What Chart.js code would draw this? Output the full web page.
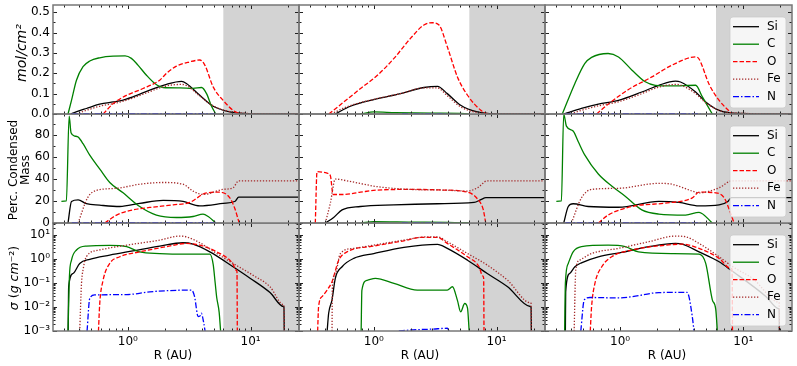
<!DOCTYPE html>
<html><head><meta charset="utf-8">
<script src="https://cdn.jsdelivr.net/npm/chart.js@4.4.0/dist/chart.umd.min.js"></script>
<style>
html,body{margin:0;padding:0;background:#fff;}
#wrap{position:relative;width:797px;height:366px;overflow:hidden;font-family:"DejaVu Sans";background:#fff;}
canvas{position:absolute;left:0;top:0;}
.lab{position:absolute;white-space:nowrap;font-size:12px;color:#000;line-height:12px;z-index:30;text-align:center;}
.rot{transform:translate(-50%,-50%) rotate(-90deg);}
.hz{transform:translate(-50%,-50%);}
</style></head><body><div id="wrap"></div>
<script>
// ---------- DATA (R in AU, value) ----------
const elements = ["Si","C","O","Fe","N"];

// Row 1: mol/cm^2
const molA_Si = [[0.345,0],[0.40,0.015],[0.46,0.027],[0.59,0.048],[0.76,0.059],[0.86,0.064],[1.1,0.084],[1.51,0.117],[2.07,0.146],[2.74,0.160],[3.0,0.150],[3.86,0.092],[4.96,0.038],[6.78,0.010],[9.3,0.002],[12,0.0005],[25,0]];
const molA_C  = [[0.326,0],[0.348,0.067],[0.382,0.166],[0.432,0.232],[0.49,0.26],[0.59,0.276],[0.76,0.284],[0.95,0.285],[1.07,0.273],[1.21,0.24],[1.42,0.19],[1.66,0.15],[1.94,0.13],[2.65,0.128],[3.4,0.126],[3.99,0.13],[4.38,0.10],[4.81,0.038],[5.21,0]];
const molA_O  = [[0.63,0],[0.76,0.051],[0.98,0.092],[1.33,0.125],[1.82,0.166],[2.07,0.2],[2.49,0.235],[3.2,0.256],[3.86,0.265],[4.24,0.24],[4.96,0.133],[5.98,0.067],[7.2,0.018],[8.2,0]];
const molA_Fe = [[0.38,0],[0.46,0.018],[0.59,0.038],[0.86,0.058],[1.1,0.078],[1.51,0.11],[2.07,0.138],[2.74,0.145],[3.0,0.14],[3.86,0.088],[4.96,0.04],[6.78,0.012],[9.3,0.003],[12,0.001],[25,0]];
const molA_N  = [[0.35,0.001],[1.0,0.002],[3.5,0.002],[4.6,0.001],[5.2,0.0005]];

const molB_Si = [[0.486,0],[0.645,0.038],[1.0,0.071],[1.65,0.10],[2.56,0.13],[3.3,0.136],[3.97,0.10],[5.1,0.043],[7.0,0.01],[9.6,0.001],[25,0]];
const molB_C  = [[0.79,0],[1.0,0.01],[1.5,0.007],[3.0,0.004],[5.5,0.002],[5.9,0]];
const molB_O  = [[0.43,0],[0.57,0.059],[0.78,0.125],[1.07,0.19],[1.46,0.273],[1.99,0.371],[2.56,0.437],[3.0,0.448],[3.4,0.437],[3.97,0.33],[4.8,0.182],[5.8,0.092],[7.44,0.018],[8.4,0]];
const molB_Fe = [[0.45,0],[0.6,0.035],[1.0,0.072],[1.65,0.10],[2.56,0.128],[3.3,0.128],[3.97,0.09],[5.1,0.035],[7.0,0.007],[9.6,0.001],[25,0]];
const molB_N  = [[1.7,0],[4.2,0.0005]];

const molC_Si = [[0.35,0],[0.486,0.027],[0.666,0.048],[0.97,0.067],[1.5,0.108],[2.06,0.141],[2.81,0.161],[3.09,0.157],[4.1,0.108],[4.95,0.059],[6.36,0.018],[9.28,0.003],[25,0]];
const molC_C  = [[0.34,0],[0.43,0.15],[0.518,0.248],[0.587,0.278],[0.80,0.297],[0.97,0.28],[1.25,0.215],[1.6,0.158],[1.93,0.141],[2.64,0.138],[4.1,0.141],[4.65,0.084],[5.6,0]];
const molC_O  = [[0.645,0],[0.80,0.048],[1.17,0.12],[1.81,0.182],[2.64,0.24],[4.1,0.28],[4.37,0.27],[5.27,0.146],[6.36,0.067],[8.1,0]];
const molC_Fe = [[0.4,0],[0.486,0.018],[0.666,0.04],[0.97,0.06],[1.5,0.1],[2.06,0.132],[2.81,0.145],[3.09,0.142],[4.1,0.1],[4.95,0.055],[6.36,0.018],[9.28,0.004],[25,0]];
const molC_N  = [[0.36,0.001],[1.0,0.002],[3.9,0.002],[4.5,0.001]];

// Row 2: percent condensed mass
const percA_Si = [[0.326,0],[0.348,19.6],[0.394,21],[0.46,17.5],[0.59,16.2],[0.86,15],[1.25,17.8],[1.94,20.6],[2.82,19.6],[3.86,15.6],[5.98,17.8],[7.5,19.8],[8.0,23.5],[25,23.5]];
const percA_C  = [[0.288,19.6],[0.316,20],[0.333,97],[0.345,82],[0.37,79],[0.394,78],[0.432,72],[0.49,61.6],[0.59,49.2],[0.713,36.8],[0.916,27.4],[1.25,15],[1.71,7.2],[2.49,5],[3.4,5.9],[4.1,8.1],[4.52,5.9],[5.21,0]];
const percA_O  = [[0.65,0],[0.81,7.2],[1.1,11.9],[1.51,14.1],[2.34,16.5],[3.2,18.7],[4.38,27.4],[5.62,28],[6.78,22.8],[7.43,13.4],[8.08,0]];
const percA_Fe = [[0.394,0],[0.47,22.8],[0.55,29.5],[0.81,31.5],[1.25,35.2],[1.94,36.8],[2.82,35.2],[3.4,29],[4.1,25.9],[5.98,30.5],[7.2,32],[8.0,38.3],[25,38.3]];
const percA_N  = [[0.35,0.3],[5.2,0.3]];

const percB_Si = [[0.403,0],[0.471,5],[0.552,11.9],[0.778,15],[1.46,16.5],[3.3,17.5],[6.56,18.7],[7.44,21.2],[8.2,23.1],[25,23.1]];
const percB_C  = [[0.79,0],[1.0,1.2],[2.0,0.8],[4.0,0.5],[5.9,0]];
const percB_O  = [[0.334,0],[0.345,46.7],[0.417,45.2],[0.443,43],[0.466,25.9],[0.569,25.9],[0.778,28],[1.07,29.9],[1.99,30.5],[3.73,29.9],[5.8,28],[7.0,21.8],[7.8,11.9],[8.16,0]];
const percB_Fe = [[0.403,0],[0.443,18.1],[0.486,39.9],[0.606,38.3],[1.07,33],[1.99,30.5],[3.73,29.9],[5.8,29],[7.0,32],[8.4,38.3],[25,38.3]];
const percB_N  = [[1.7,0.1],[4.2,0.1]];

const percC_Si = [[0.349,0],[0.38,15],[0.416,17.5],[0.552,15],[0.97,14.3],[2.06,19.6],[3.0,18.7],[4.37,15.6],[6.36,16.5],[7.5,19.5],[8.0,23],[25,23]];
const percC_C  = [[0.304,19.6],[0.334,20],[0.349,99],[0.367,88],[0.416,83.5],[0.457,74],[0.518,61.6],[0.666,44.5],[0.855,33.6],[1.1,24.3],[1.5,11.9],[2.06,8.1],[3.4,7.2],[4.37,9.7],[5.6,0]];
const percC_O  = [[0.666,0],[0.80,7.2],[1.25,15],[2.33,18.1],[3.85,22.8],[4.37,28],[5.97,27.4],[7.0,22.8],[7.7,11.9],[8.4,0]];
const percC_Fe = [[0.403,0],[0.486,22.8],[0.587,30.5],[0.97,31.5],[2.06,36],[2.64,35.2],[3.85,29],[4.37,27.4],[6.36,32],[8.1,38.3],[25,38.3]];
const percC_N  = [[0.36,0.3],[4.5,0.3]];

// Row 3: surface density (g cm^-2)
const sigA_Si = [[0.327,0.001],[0.33,0.07],[0.358,0.25],[0.406,0.66],[0.49,0.98],[0.713,1.47],[1.1,2.2],[1.82,3.5],[2.82,4.8],[3.4,4.2],[4.66,2.0],[7.2,0.48],[9.9,0.16],[14.4,0.04],[18.5,0.0105],[18.7,0.01],[18.8,0.001]];
const sigA_C  = [[0.326,0.001],[0.335,0.2],[0.348,0.9],[0.382,2.4],[0.46,3.5],[0.713,3.7],[0.98,3.3],[1.25,2.0],[1.82,1.7],[3.0,1.6],[4.66,1.6],[4.96,0.6],[5.15,0.1],[5.3,0.025],[5.55,0.006],[5.7,0.001]];
const sigA_O  = [[0.577,0.001],[0.591,0.014],[0.629,0.13],[0.713,0.66],[0.86,1.25],[1.25,2.0],[2.07,3.3],[3.0,4.5],[3.86,3.8],[5.3,2.0],[7.2,0.62],[7.6,0.35],[7.75,0.3],[7.8,0.001]];
const sigA_Fe = [[0.406,0.001],[0.42,0.1],[0.432,0.35],[0.46,1.25],[0.59,2.4],[0.98,3.8],[1.82,6.2],[2.65,9.1],[3.0,8.5],[3.86,4.8],[5.3,1.7],[7.2,0.66],[10.5,0.21],[14.4,0.07],[18.5,0.0125],[18.7,0.012],[18.8,0.001]];
const sigA_N  = [[0.466,0.001],[0.49,0.023],[0.538,0.032],[0.98,0.033],[1.51,0.043],[2.07,0.048],[3.31,0.051],[3.5,0.027],[3.74,0.004],[3.93,0.0046],[3.97,0.0055],[4.16,0.0021],[4.26,0.001]];

const sigB_Si = [[0.417,0.001],[0.429,0.0055],[0.457,0.02],[0.486,0.158],[0.552,0.48],[0.687,1.07],[1.0,1.7],[1.76,3.1],[3.3,4.1],[3.97,2.8],[5.8,0.9],[8.4,0.25],[12.3,0.07],[18.8,0.0105],[19.1,0.0097],[19.2,0.001]];
const sigB_C  = [[0.789,0.001],[0.8,0.05],[0.883,0.13],[1.03,0.158],[1.46,0.097],[2.26,0.051],[3.97,0.051],[4.37,0.07],[4.8,0.019],[5.1,0.0063],[5.5,0.014],[5.8,0.0089],[5.98,0.001]];
const sigB_O  = [[0.349,0.001],[0.355,0.01],[0.379,0.027],[0.417,0.051],[0.457,0.114],[0.518,0.9],[0.606,2.0],[1.0,3.5],[1.76,5.8],[2.41,8.0],[3.3,8.0],[3.97,4.5],[5.8,1.25],[7.2,0.48],[7.7,0.2],[7.85,0.16],[7.9,0.001]];
const sigB_Fe = [[0.457,0.001],[0.46,0.07],[0.486,0.25],[0.534,1.7],[0.687,2.8],[1.0,3.8],[1.76,6.2],[2.73,8.5],[3.3,8.5],[3.97,5.3],[5.8,1.7],[8.4,0.56],[12.3,0.13],[18.8,0.015],[19.1,0.014],[19.2,0.001]];
const sigB_N  = [[1.6,0.001],[1.99,0.0011],[3.0,0.0012],[3.97,0.0013],[4.1,0.001]];

const sigC_Si = [[0.36,0.001],[0.362,0.043],[0.39,0.25],[0.43,0.48],[0.486,0.7],[0.666,1.25],[1.03,1.9],[1.71,3.3],[2.81,4.5],[3.19,4.2],[4.37,2.0],[6.36,0.77],[7.9,0.35],[15.3,0.027],[19.3,0.0085],[19.5,0.008],[19.6,0.001]];
const sigC_C  = [[0.355,0.001],[0.36,0.1],[0.38,0.66],[0.416,2.0],[0.486,3.3],[0.80,3.8],[1.1,3.3],[1.41,2.0],[2.64,1.7],[4.37,1.6],[4.95,0.66],[5.6,0.02],[5.97,0.008],[6.15,0.001]];
const sigC_O  = [[0.573,0.001],[0.587,0.01],[0.625,0.097],[0.71,0.48],[0.855,1.25],[1.25,2.4],[2.33,3.8],[3.19,4.2],[4.37,2.8],[6.36,1.07],[7.9,0.41],[8.1,0.38],[8.16,0.001]];
const sigC_Fe = [[0.424,0.001],[0.437,0.35],[0.471,0.9],[0.587,1.7],[0.97,2.8],[1.71,5.3],[2.81,9.1],[3.4,8.5],[4.37,4.5],[6.36,1.25],[8.2,0.48],[12,0.15],[19.3,0.016],[19.5,0.015],[19.6,0.001]];
const sigC_N  = [[0.48,0.001],[0.512,0.02],[0.57,0.025],[0.97,0.024],[1.25,0.027],[2.06,0.04],[3.5,0.041],[3.62,0.027],[3.85,0.004],[3.98,0.001]];

// ticks
const xMajor = [1, 10];
const xMajorLabels = ["10\u2070", "10\u00b9"];
const xMinor = [0.3,0.4,0.5,0.6,0.7,0.8,0.9,2,3,4,5,6,7,8,9,20];
const y1Major = [0,0.1,0.2,0.3,0.4,0.5];
const y1Labels = ["0.0","0.1","0.2","0.3","0.4","0.5"];
const y1Minor = [0.05,0.15,0.25,0.35,0.45];
const y2Major = [0,20,40,60,80];
const y2Labels = ["0","20","40","60","80"];
const y2Minor = [10,30,50,70,90];
const y3Major = [0.001,0.01,0.1,1,10];
const y3Labels = ["10\u207b\u00b3","10\u207b\u00b2","10\u207b\u00b9","10\u2070","10\u00b9"];
const y3Minor = [0.002,0.003,0.004,0.005,0.006,0.007,0.008,0.009,0.02,0.03,0.04,0.05,0.06,0.07,0.08,0.09,0.2,0.3,0.4,0.5,0.6,0.7,0.8,0.9,2,3,4,5,6,7,8,9,20,30];
const shadeFrom = 6;   // AU, grey band start

// ---------- assembly ----------
const series = [
  [{Si:molA_Si,C:molA_C,O:molA_O,Fe:molA_Fe,N:molA_N},{Si:molB_Si,C:molB_C,O:molB_O,Fe:molB_Fe,N:molB_N},{Si:molC_Si,C:molC_C,O:molC_O,Fe:molC_Fe,N:molC_N}],
  [{Si:percA_Si,C:percA_C,O:percA_O,Fe:percA_Fe,N:percA_N},{Si:percB_Si,C:percB_C,O:percB_O,Fe:percB_Fe,N:percB_N},{Si:percC_Si,C:percC_C,O:percC_O,Fe:percC_Fe,N:percC_N}],
  [{Si:sigA_Si,C:sigA_C,O:sigA_O,Fe:sigA_Fe,N:sigA_N},{Si:sigB_Si,C:sigB_C,O:sigB_O,Fe:sigB_Fe,N:sigB_N},{Si:sigC_Si,C:sigC_C,O:sigC_O,Fe:sigC_Fe,N:sigC_N}]
];
const styles = {
  Si:{color:'#000000',dash:[]},
  C:{color:'#008000',dash:[]},
  O:{color:'#ff0000',dash:[4.5,2]},
  Fe:{color:'#a52a2a',dash:[1.3,1.7]},
  N:{color:'#0000ff',dash:[6,2,1.5,2]}
};
const rowCfg = [
  {type:'linear',min:0,max:0.535,major:y1Major,labels:y1Labels,minor:y1Minor},
  {type:'linear',min:0,max:99,major:y2Major,labels:y2Labels,minor:y2Minor},
  {type:'logarithmic',min:0.001,max:32,major:y3Major,labels:y3Labels,minor:y3Minor}
];
const colEdges = [53, 299, 545, 792];
const rowEdges = [5, 114, 223, 331];
const W = 797, H = 366;
const YAXW = 45, XAXH = 28;

Chart.defaults.font.family = '"DejaVu Sans"';
Chart.defaults.font.size = 12;
Chart.defaults.color = '#000';

const panelPlugin = {
  id: 'panel',
  beforeDatasetsDraw(chart) {
    const p = chart.options.plugins.panel;
    const ctx = chart.ctx, a = chart.chartArea, xs = chart.scales.x;
    ctx.save();
    const x0 = xs.getPixelForValue(p.shadeFrom);
    ctx.fillStyle = '#d3d3d3';
    ctx.fillRect(x0, a.top, a.right - x0, a.bottom - a.top);
    ctx.restore();
  },
  afterDatasetsDraw(chart) {
    const p = chart.options.plugins.panel;
    const ctx = chart.ctx, a = chart.chartArea, xs = chart.scales.x, ys = chart.scales.y;
    ctx.save();
    ctx.strokeStyle = '#222';
    ctx.lineWidth = 1;
    const tick = (vals, len, isX) => {
      vals.forEach(v => {
        ctx.beginPath();
        if (isX) {
          const x = Math.round(xs.getPixelForValue(v)) + 0.5;
          ctx.moveTo(x, a.bottom); ctx.lineTo(x, a.bottom - len);
          ctx.moveTo(x, a.top); ctx.lineTo(x, a.top + len);
        } else {
          const y = Math.round(ys.getPixelForValue(v)) + 0.5;
          ctx.moveTo(a.left, y); ctx.lineTo(a.left + len, y);
          ctx.moveTo(a.right, y); ctx.lineTo(a.right - len, y);
        }
        ctx.stroke();
      });
    };
    tick(xMajor, 4, true); tick(xMinor, 2.5, true);
    tick(p.yMajor, 4, false); tick(p.yMinor, 2.5, false);
    ctx.strokeStyle = '#777';
    ctx.lineWidth = 1.5;
    ctx.strokeRect(a.left, a.top, a.right - a.left, a.bottom - a.top);
    ctx.restore();
  },
  afterDraw(chart) {
    const p = chart.options.plugins.panel;
    if (!p.legend) return;
    const ctx = chart.ctx, a = chart.chartArea;
    const bx = a.right - 62, by = a.top + 12, bw = 56, bh = 91, r = 3;
    ctx.save();
    ctx.beginPath();
    ctx.moveTo(bx + r, by); ctx.lineTo(bx + bw - r, by); ctx.arcTo(bx + bw, by, bx + bw, by + r, r);
    ctx.lineTo(bx + bw, by + bh - r); ctx.arcTo(bx + bw, by + bh, bx + bw - r, by + bh, r);
    ctx.lineTo(bx + r, by + bh); ctx.arcTo(bx, by + bh, bx, by + bh - r, r);
    ctx.lineTo(bx, by + r); ctx.arcTo(bx, by, bx + r, by, r); ctx.closePath();
    ctx.fillStyle = 'rgba(255,255,255,0.8)'; ctx.fill();
    ctx.strokeStyle = 'rgba(204,204,204,0.8)'; ctx.lineWidth = 1; ctx.stroke();
    chart.data.datasets.forEach((ds, i) => {
      const cy = by + 9.7 + i * 17.5;
      ctx.strokeStyle = ds.borderColor; ctx.lineWidth = ds.borderWidth;
      ctx.setLineDash(ds.borderDash);
      ctx.beginPath(); ctx.moveTo(bx + 3, cy); ctx.lineTo(bx + 29, cy); ctx.stroke();
      ctx.setLineDash([]);
      ctx.fillStyle = '#000'; ctx.font = '12px "DejaVu Sans"'; ctx.textBaseline = 'middle'; ctx.textAlign = 'left';
      ctx.fillText(ds.label, bx + 37, cy);
    });
    ctx.restore();
  }
};

const wrap = document.getElementById('wrap');
const zeroPad = s => { s.paddingLeft = 0; s.paddingRight = 0; s.paddingTop = 0; s.paddingBottom = 0; };

function makeChart(col, row) {
  const canvas = document.createElement('canvas');
  canvas.width = W; canvas.height = H;
  canvas.style.zIndex = String(10 - row);
  wrap.appendChild(canvas);
  const L = colEdges[col], R = colEdges[col + 1], T = rowEdges[row], B = rowEdges[row + 1];
  const yc = rowCfg[row];
  const dsets = elements.map((el, i) => ({
    label: el,
    data: series[row][col][el].map(p => ({x: p[0], y: p[1]})),
    borderColor: styles[el].color,
    borderDash: styles[el].dash,
    borderWidth: 1.3,
    pointRadius: 0,
    fill: false,
    cubicInterpolationMode: 'monotone',
    order: 5 - i
  }));
  new Chart(canvas, {
    type: 'line',
    data: {datasets: dsets},
    options: {
      responsive: false, animation: false, devicePixelRatio: 1,
      layout: {padding: {left: L - YAXW, top: T, right: W - R, bottom: H - B - XAXH}},
      plugins: {
        legend: {display: false}, tooltip: {enabled: false},
        panel: {shadeFrom: shadeFrom, yMajor: yc.major, yMinor: yc.minor, legend: col === 2}
      },
      scales: {
        x: {
          type: 'logarithmic', min: 0.246, max: 24.8,
          grid: {display: false, drawTicks: false}, border: {display: false},
          afterFit: s => { s.height = XAXH; zeroPad(s); },
          afterBuildTicks: s => { s.ticks = xMajor.map(v => ({value: v})); },
          ticks: {display: row === 2, autoSkip: false, maxRotation: 0, minRotation: 0, padding: 4,
                  callback: (v, i) => xMajorLabels[i], font: {size: 12}, color: '#000'}
        },
        y: {
          type: yc.type, min: yc.min, max: yc.max,
          grid: {display: false, drawTicks: false}, border: {display: false},
          afterFit: s => { s.width = YAXW; zeroPad(s); },
          afterBuildTicks: s => { s.ticks = yc.major.map(v => ({value: v})); },
          ticks: {display: col === 0, autoSkip: false, padding: 3,
                  callback: (v, i) => yc.labels[i], font: {size: 12}, color: '#000'}
        }
      }
    },
    plugins: [panelPlugin]
  });
}

for (let r = 0; r < 3; r++) for (let c = 0; c < 3; c++) makeChart(c, r);

// axis titles (HTML text)
function addLabel(html, x, y, cls, size) {
  const d = document.createElement('div');
  d.className = 'lab ' + cls;
  d.style.left = x + 'px'; d.style.top = y + 'px';
  if (size) d.style.fontSize = size + 'px';
  d.innerHTML = html;
  wrap.appendChild(d);
}
addLabel('<i>mol/cm²</i>', 21, 53, 'rot', 14);
addLabel('Perc. Condensed<br>Mass', 19, 170, 'rot', 12);
addLabel('<i>σ</i> (<i>g cm</i>⁻²)', 14, 278, 'rot', 12.5);
addLabel('R (AU)', 173, 355, 'hz', 12);
addLabel('R (AU)', 420, 355, 'hz', 12);
addLabel('R (AU)', 667, 355, 'hz', 12);
</script></body></html>
